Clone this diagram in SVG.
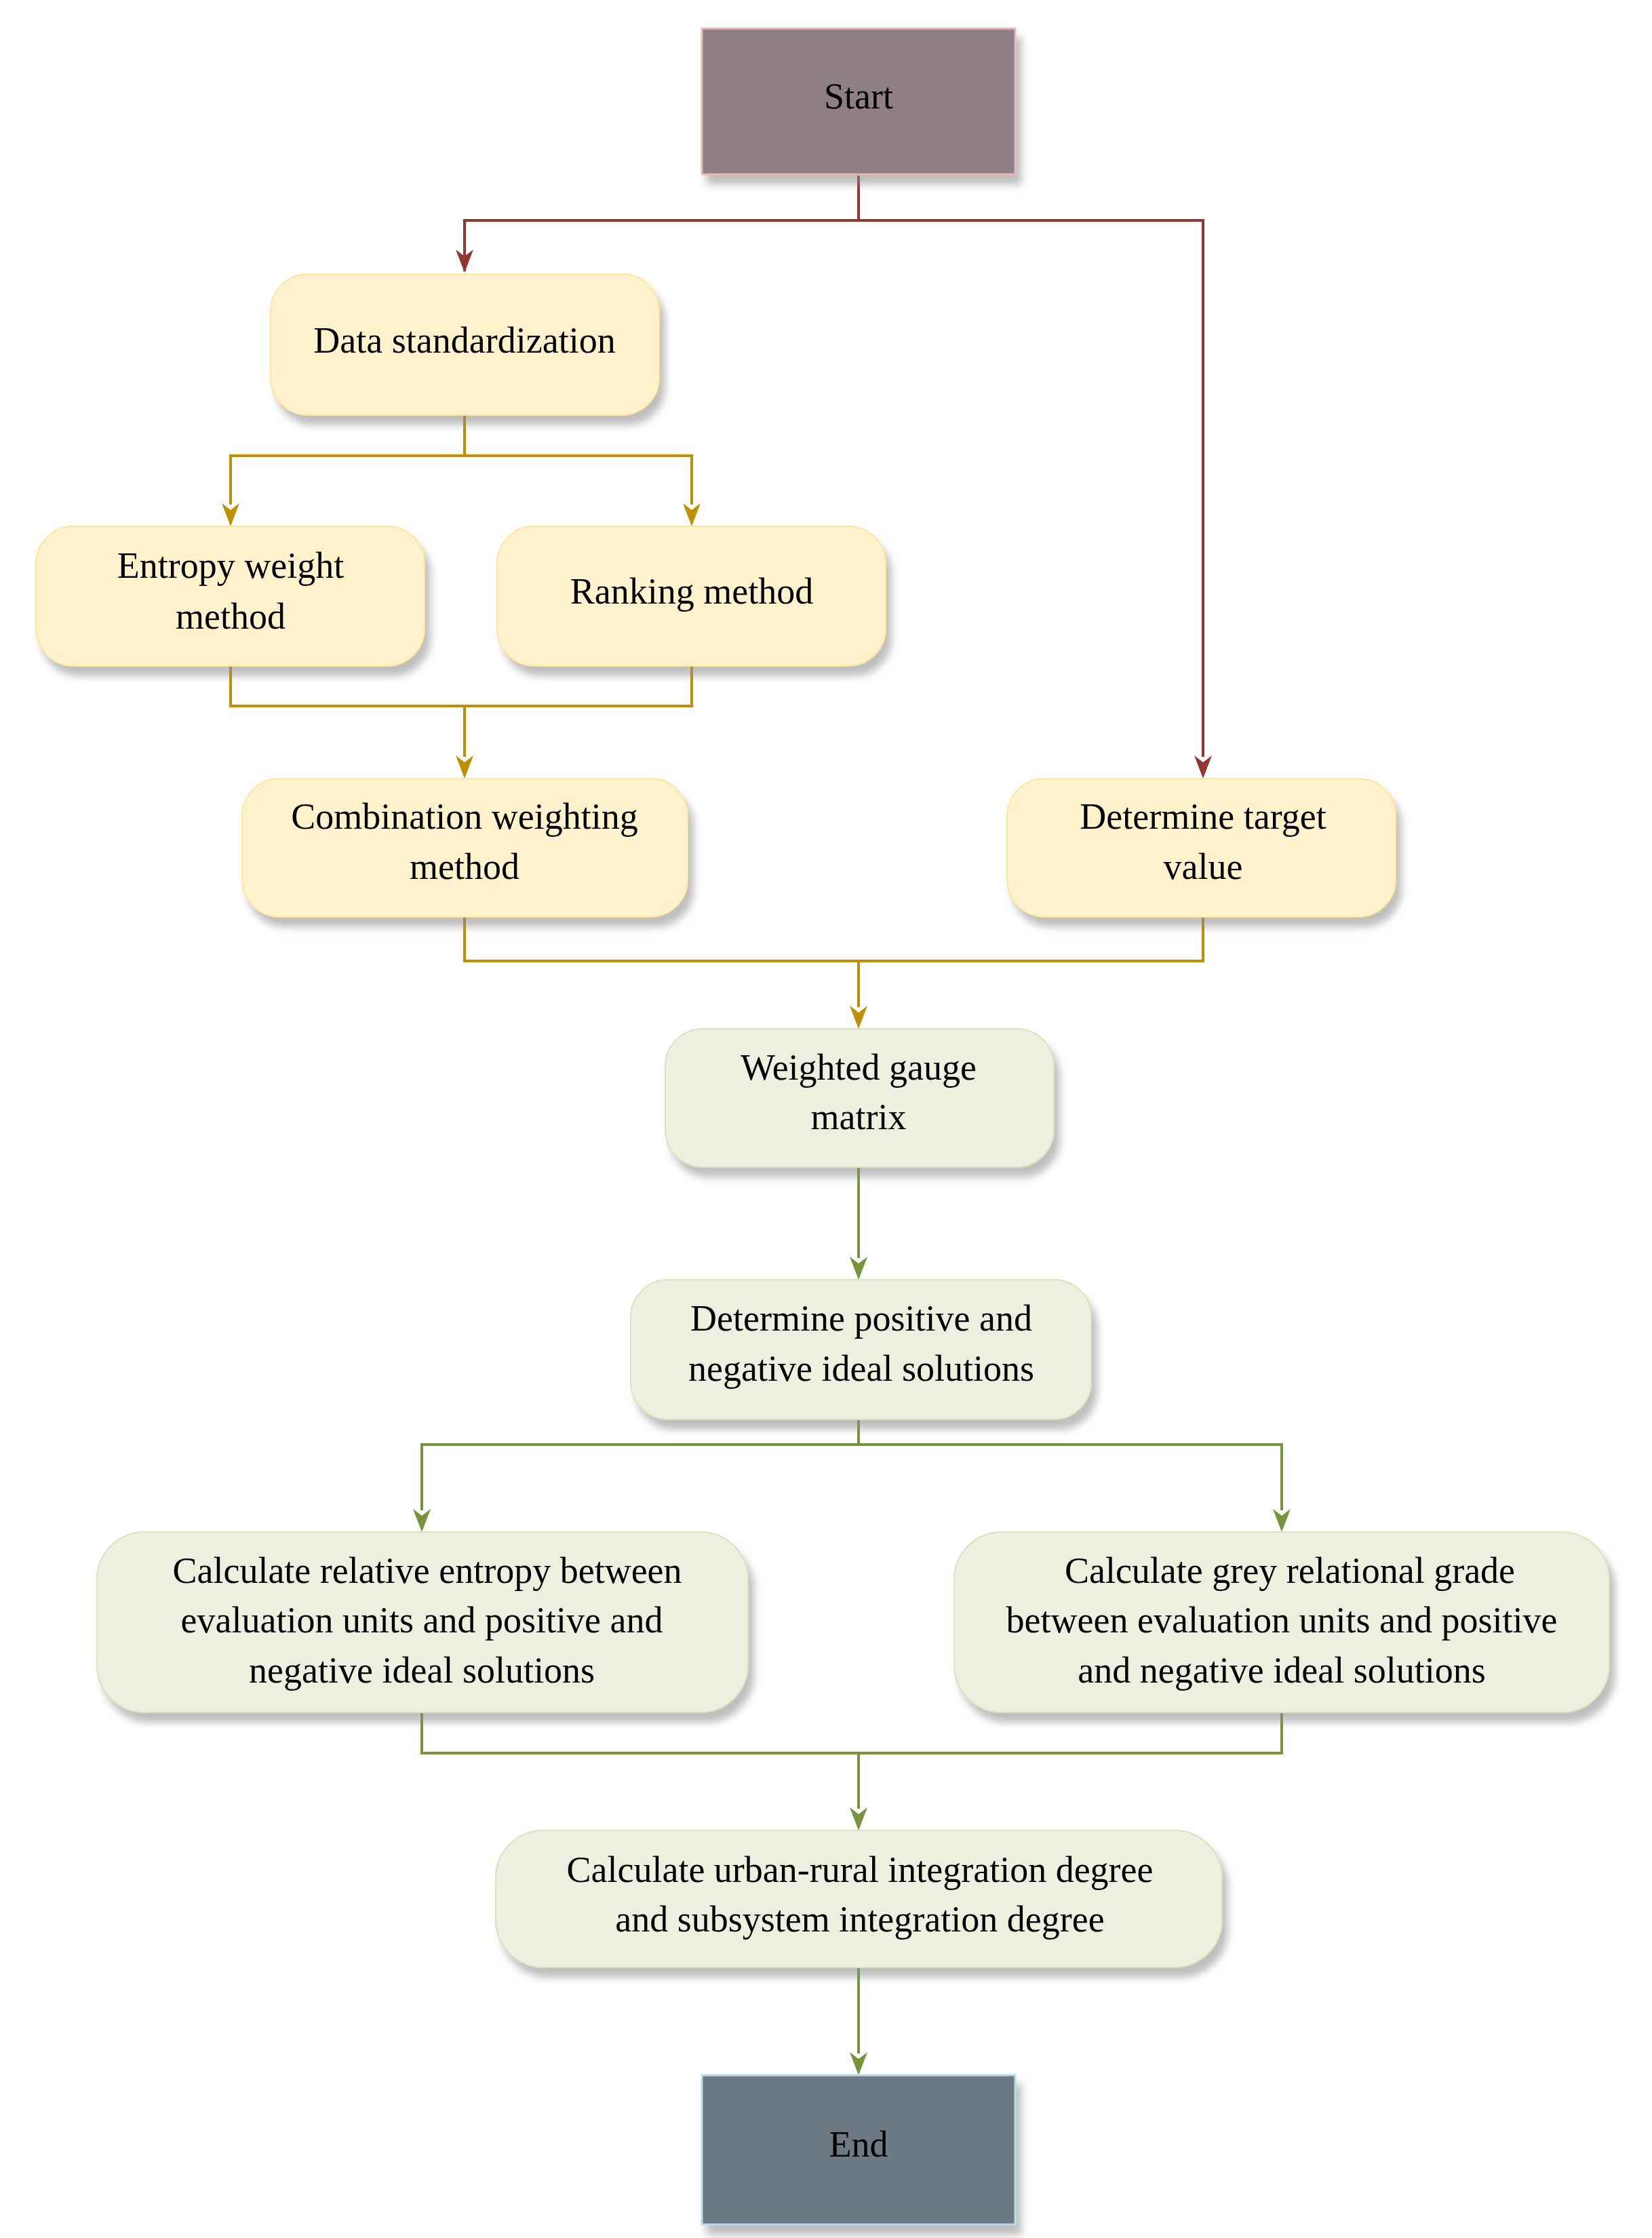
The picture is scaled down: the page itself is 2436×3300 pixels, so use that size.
<svg xmlns="http://www.w3.org/2000/svg" width="2436" height="3300" viewBox="0 0 2436 3300">
<defs>
<filter id="sh" x="-10%" y="-10%" width="130%" height="140%"><feDropShadow dx="8" dy="14" stdDeviation="6" flood-color="#888" flood-opacity="0.55"/></filter>
<marker id="mr" viewBox="0 0 10 10" refX="9" refY="5" markerWidth="9" markerHeight="9" markerUnits="userSpaceOnUse" orient="auto"><path d="M0,0 L10,5 L0,10 L3,5 z" fill="#943634"/></marker>
<marker id="my" viewBox="0 0 10 10" refX="9" refY="5" markerWidth="9" markerHeight="9" orient="auto" markerUnits="userSpaceOnUse"><path d="M0,0 L10,5 L0,10 L3,5 z" fill="#bf8f00"/></marker>
<marker id="mg" viewBox="0 0 10 10" refX="9" refY="5" markerWidth="9" markerHeight="9" orient="auto" markerUnits="userSpaceOnUse"><path d="M0,0 L10,5 L0,10 L3,5 z" fill="#77933c"/></marker>
</defs>
<style>
text{font-family:"Liberation Serif","Times New Roman",serif;font-size:54px;fill:#000;text-anchor:middle}
.y{fill:#fff2cc;stroke:#ffe699;stroke-width:2;filter:url(#sh)}
.g{fill:#ebf1de;stroke:#d7e4bd;stroke-width:2;filter:url(#sh)}
.c{fill:none;stroke-width:4}
.r{stroke:#943634}.o{stroke:#bf8f00}.n{stroke:#77933c}
</style>
<rect width="2436" height="3300" fill="#fff"/>
<g id="connectors">
<path class="c r" d="M1266,259 V325 H685 V400" marker-end="url(#mr)" style="marker-end:none"/>
<path class="c r" d="M685,325 V400"/>
<path d="M672,368 L685,402 L698,368 L685,378 z" fill="#943634"/>
<path class="c r" d="M1266,325 H1774 V1116"/>
<path d="M1761,1114 L1774,1148 L1787,1114 L1774,1124 z" fill="#943634"/>
<path class="c o" d="M685,612 V672 H340 V744 M685,672 H1020 V744"/>
<path d="M327,742 L340,776 L353,742 L340,752 z M1007,742 L1020,776 L1033,742 L1020,752 z" fill="#bf8f00"/>
<path class="c o" d="M340,982 V1041 H1020 V982 M685,1041 V1116"/>
<path d="M672,1114 L685,1148 L698,1114 L685,1124 z" fill="#bf8f00"/>
<path class="c o" d="M685,1352 V1417 H1774 V1352 M1266,1417 V1485"/>
<path d="M1253,1483 L1266,1517 L1279,1483 L1266,1493 z" fill="#bf8f00"/>
<path class="c n" d="M1266,1721 V1855"/>
<path d="M1253,1853 L1266,1887 L1279,1853 L1266,1863 z" fill="#77933c"/>
<path class="c n" d="M1266,2093 V2130 H622 V2227 M1266,2130 H1890 V2227"/>
<path d="M609,2225 L622,2259 L635,2225 L622,2235 z M1877,2225 L1890,2259 L1903,2225 L1890,2235 z" fill="#77933c"/>
<path class="c n" d="M622,2525 V2585 H1890 V2525 M1266,2585 V2667"/>
<path d="M1253,2665 L1266,2699 L1279,2665 L1266,2675 z" fill="#77933c"/>
<path class="c n" d="M1266,2901 V3028"/>
<path d="M1253,3026 L1266,3060 L1279,3026 L1266,3036 z" fill="#77933c"/>
</g>
<g id="start"><rect x="1035" y="42" width="462" height="215" fill="#8e7f84" stroke="#e6b8b7" stroke-width="3" filter="url(#sh)"/><text x="1266" y="160">Start</text></g>
<g id="data"><rect class="y" x="399" y="404" width="573" height="208" rx="55"/><text x="685" y="520">Data standardization</text></g>
<g id="entropy"><rect class="y" x="53" y="776" width="573" height="206" rx="55"/><text x="340" y="852">Entropy weight</text><text x="340" y="927">method</text></g>
<g id="ranking"><rect class="y" x="733" y="776" width="573" height="206" rx="55"/><text x="1020" y="890">Ranking method</text></g>
<g id="combination"><rect class="y" x="357" y="1148" width="657" height="204" rx="55"/><text x="685" y="1222">Combination weighting</text><text x="685" y="1296">method</text></g>
<g id="target"><rect class="y" x="1485" y="1148" width="573" height="204" rx="55"/><text x="1774" y="1222">Determine target</text><text x="1774" y="1296">value</text></g>
<g id="weighted"><rect class="g" x="981" y="1517" width="573" height="204" rx="55"/><text x="1266" y="1592">Weighted gauge</text><text x="1266" y="1665">matrix</text></g>
<g id="ideal"><rect class="g" x="930" y="1887" width="679" height="206" rx="55"/><text x="1270" y="1962">Determine positive and</text><text x="1270" y="2036">negative ideal solutions</text></g>
<g id="relative"><rect class="g" x="143" y="2259" width="960" height="266" rx="70"/><text x="630" y="2334">Calculate relative entropy between</text><text x="622" y="2407">evaluation units and positive and</text><text x="622" y="2481">negative ideal solutions</text></g>
<g id="grey"><rect class="g" x="1407" y="2259" width="966" height="266" rx="70"/><text x="1902" y="2334">Calculate grey relational grade</text><text x="1890" y="2407">between evaluation units and positive</text><text x="1890" y="2481">and negative ideal solutions</text></g>
<g id="urban"><rect class="g" x="731" y="2699" width="1071" height="202" rx="70"/><text x="1268" y="2775">Calculate urban-rural integration degree</text><text x="1268" y="2848">and subsystem integration degree</text></g>
<g id="end"><rect x="1035" y="3060" width="462" height="220" fill="#6d7a84" stroke="#b7dde8" stroke-width="3" filter="url(#sh)"/><text x="1266" y="3180">End</text></g>
</svg>
